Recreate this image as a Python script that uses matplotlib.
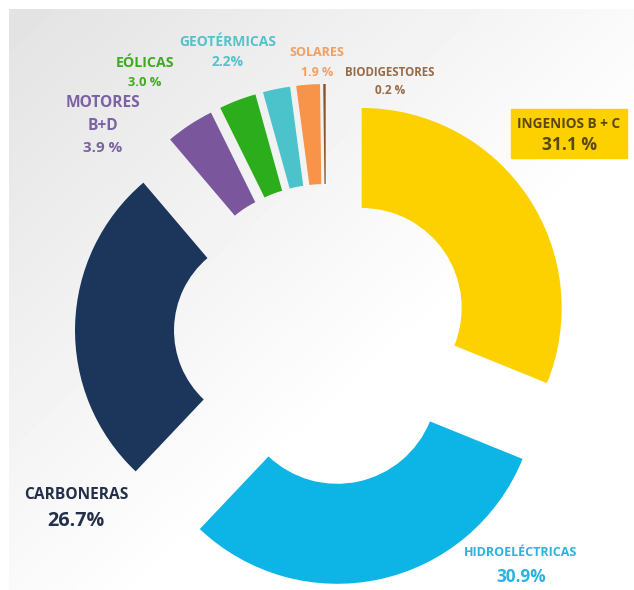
import matplotlib
matplotlib.use('Agg')
import matplotlib.pyplot as plt
import numpy as np

plt.rcParams['font.family'] = ['Open Sans', 'DejaVu Sans']

# data
categories = ['INGENIOS B + C', 'HIDROELÉCTRICAS', 'CARBONERAS', 'MOTORES\nB+D',
              'EÓLICAS', 'GEOTÉRMICAS', 'SOLARES', 'BIODIGESTORES']
shares = [31.1, 30.9, 26.7, 3.9, 3.0, 2.2, 1.9, 0.2]
pct_labels = ['31.1 %', '30.9%', '26.7%', '3.9 %', '3.0 %', '2.2%', '1.9 %', '0.2 %']
colors = ['#FDD000', '#0DB5E6', '#1B355B', '#7A579D', '#2CAE1C', '#4CC3CB', '#F7944A', '#8A5628']
text_colors = ['#574814', '#2AB3E0', '#24304A', '#7B62A3', '#3DAA1F', '#55C2C8', '#F59E5E', '#9A6A44']
explode = [0.215, 0.265, 0.285, 0.24, 0.24, 0.24, 0.24, 0.24]

W, H = 634, 590
CX, CY, R = 326, 332, 200.0  # donut centre in pixels, radius in pixels


def px(x, y):
    return (x - CX) / R, (CY - y) / R


fig = plt.figure(figsize=(W / 100, H / 100), dpi=100)

# soft grey background
bg = fig.add_axes([0, 0, 1, 1], zorder=0)
yy, xx = np.mgrid[0:H, 0:W]
t = (xx / W + yy / H) / 2
shade = 0.885 + 0.115 * np.clip(t / 0.62, 0, 1)
shade[:9, :] = 1.0
shade[:, :9] = 1.0
bg.imshow(shade, cmap='gray', vmin=0, vmax=1, aspect='auto', interpolation='bilinear')
bg.axis('off')

ax = fig.add_axes([0, 0, 1, 1], zorder=1)
ax.patch.set_alpha(0)
wedges, _ = ax.pie(shares, colors=colors, explode=explode, startangle=90,
                   counterclock=False, radius=1.0,
                   wedgeprops=dict(width=0.5, linewidth=0))
# carboneras slice is drawn a bit smaller in the original
wedges[2].set_radius(0.97)
wedges[2].set_width(0.495)

ax.set_xlim(-CX / R, (W - CX) / R)
ax.set_ylim(-(H - CY) / R, CY / R)
ax.set_aspect('equal')
ax.axis('off')

# labels: (x, name y, pct y, name size, pct size, weight)
label_pos = {
    'INGENIOS B + C': (569, 124, 145, 9.8, 12.5, 'bold'),
    'HIDROELÉCTRICAS': (521, 553, 577, 9, 12.3, 'bold'),
    'CARBONERAS': (76, 495, 521, 11.2, 14.2, 'bold'),
    'MOTORES\nB+D': (103, 103, 148, 11.2, 10.9, 'bold'),
    'EÓLICAS': (145, 63, 82, 10.2, 9.3, 'bold'),
    'GEOTÉRMICAS': (228, 42, 62, 10, 10, 'bold'),
    'SOLARES': (317, 52, 72, 9, 9, 'bold'),
    'BIODIGESTORES': (390, 72, 90, 8.3, 8.5, 'bold'),
}

for i, name in enumerate(categories):
    x, y, yp, s1, s2, fw = label_pos[name]
    if name.startswith('MOTORES'):
        ax.text(*px(x, y), 'MOTORES', ha='center', va='center', fontsize=s1,
                color=text_colors[i], fontweight=fw)
        ax.text(*px(x, 126), 'B+D', ha='center', va='center', fontsize=s1,
                color=text_colors[i], fontweight=fw)
    else:
        ax.text(*px(x, y), name, ha='center', va='center', fontsize=s1,
                color=text_colors[i], fontweight=fw)
    ax.text(*px(x, yp), pct_labels[i], ha='center', va='center', fontsize=s2,
            color=text_colors[i], fontweight=fw)

# yellow box behind the ingenios label
x0, y0 = px(511, 158)
x1, y1 = px(627, 109)
ax.add_patch(plt.Rectangle((x0, y0), x1 - x0, y1 - y0, color=colors[0], zorder=0.5))

fig.savefig('out.png', dpi=100)
